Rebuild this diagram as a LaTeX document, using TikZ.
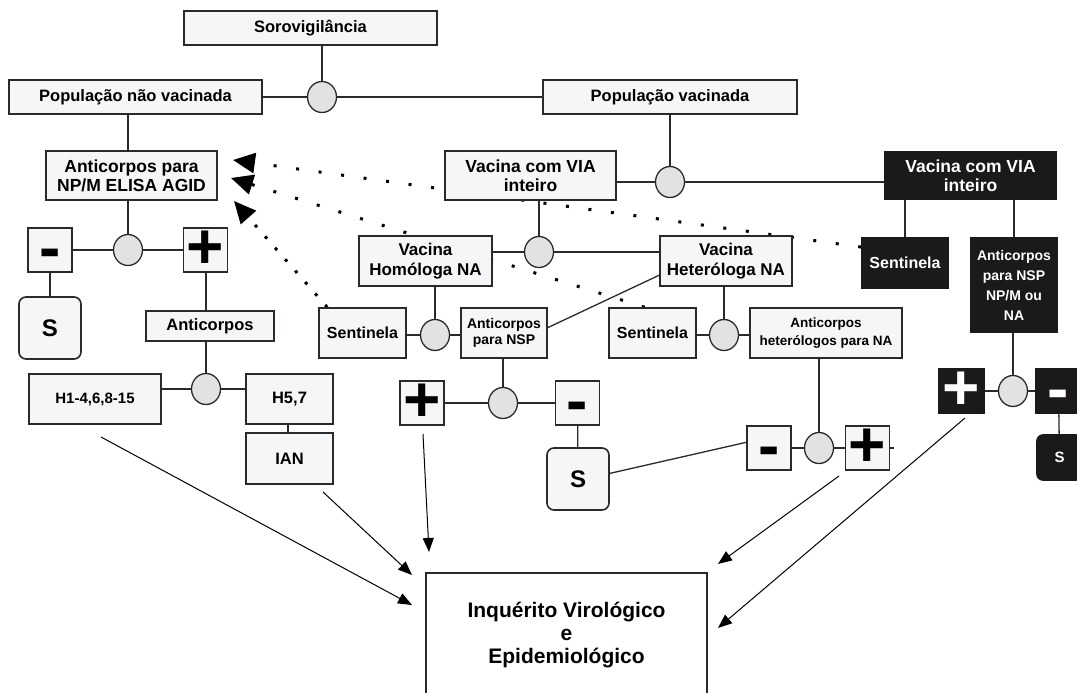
\documentclass[tikz,border=0pt]{standalone}
\usepackage{fontspec}
\setmainfont{Liberation Sans}
\usetikzlibrary{arrows.meta,shapes.geometric,calc}
\definecolor{ink}{HTML}{2A2A2A}
\definecolor{paper}{HTML}{F5F6F8}
\definecolor{discfill}{HTML}{E2E2E2}
\definecolor{blk}{HTML}{1B1919}
\newcommand\fs[2]{\fontsize{#1}{#2}\selectfont}
% hyphen used as a bold minus, set on the centre line of its box
\newcommand\negsign{\smash{\raisebox{-0.3em}{-}}}
\pgfdeclarelayer{back}
\pgfdeclarelayer{bg}
\pgfsetlayers{back,bg,main}

\begin{document}
\begin{tikzpicture}[x=1pt,y=-1pt,
  box/.style={draw=ink,fill=paper,line width=1.6pt,inner sep=0pt,align=center,
              font=\bfseries\fs{16.5}{19}},
  dark/.style={box,draw=blk,fill=blk,text=white},
  wh/.style 2 args={minimum width=#1pt,minimum height=#2pt},
  sq/.style={box,minimum width=44pt,minimum height=44pt,font=\bfseries\fs{64}{64}},
  sbox/.style={box,rounded corners=7pt,font=\bfseries\fs{24}{24}},
  disc/.style={ellipse,draw=ink,fill=discfill,line width=1.3pt,
               minimum width=29pt,minimum height=31pt,inner sep=0pt},
  link/.style={draw=ink,line width=1.3pt},
  arr/.style={draw=black,line width=1pt,-{Triangle[length=14pt,width=11pt]}},
  dotl/.style={draw=black,line width=3pt,dash pattern=on 3pt off 19.7pt,
               -{Triangle[length=22pt,width=20pt]}},
  dotlb/.style={dotl,dash pattern=on 3pt off 12.2pt},
]
\useasboundingbox (0,0) rectangle (1077,693);
\begin{pgfonlayer}{back}
  \fill[white] (0,0) rectangle (1077,693);
\end{pgfonlayer}

% ---- top level
\node[box,wh={253}{34}] (soro)  at (310.5,28) {Sorovigilância};
\node[box,wh={253}{34}] (popnv) at (135.5,97) {População não vacinada};
\node[box,wh={254}{34}] (popv)  at (670,97)   {População vacinada};
\node[disc] (circA) at (322,97) {};

% ---- non-vaccinated branch
\node[box,wh={171}{49},font=\bfseries\fs{17.5}{19}] (antinp) at (131.5,175.5)
  {Anticorpos para\\NP/M ELISA AGID};
\node[disc] (circB) at (128,250) {};
\node[sq] (minusL) at (50,250) {\negsign};
\node[sq] (plusL) at (205.5,250) {+};
\node[sbox,wh={62}{62}] (SL) at (50,328) {S};
\node[box,wh={128}{30}] (anti) at (210,326) {Anticorpos};
\node[disc] (circC) at (206,389) {};
\node[box,wh={132}{50},font=\bfseries\fs{15}{18}] (h1) at (95,399) {H1-4,6,8-15};
\node[box,wh={87}{50}] (h57) at (289.5,399) {H5,7};
\node[box,wh={87}{51}] (ian) at (289.5,458.5) {IAN};

% ---- vaccinated branch
\node[box,wh={171}{49},font=\bfseries\fs{17.5}{19}] (viaw) at (530.5,175.5)
  {Vacina com VIA\\inteiro};
\node[disc] (circF) at (670,182) {};
\node[dark,wh={171}{48},font=\bfseries\fs{17.5}{19}] (viab) at (970.5,175.5)
  {Vacina com VIA\\inteiro};
\node[disc] (circJ) at (539,252) {};
\node[box,wh={133}{50},font=\bfseries\fs{17}{20}] (homo) at (425.5,261)
  {Vacina\\Homóloga NA};
\node[box,wh={132}{50},font=\bfseries\fs{17}{20}] (hetero) at (726,261)
  {Vacina\\Heteróloga NA};

\node[box,wh={87}{50},font=\bfseries\fs{16}{19}] (sentL) at (362.5,333) {Sentinela};
\node[disc] (circD) at (435,335) {};
\node[box,wh={86}{50},font=\bfseries\fs{14}{16}] (antinsp) at (504,333)
  {Anticorpos\\para NSP};
\node[disc] (circE) at (503,403) {};
\node[sq] (plusM) at (422,403) {+};
\node[sq] (minusM) at (577.5,403) {\negsign};
\node[sbox,wh={62}{62}] (SM) at (578,479) {S};

\node[box,wh={87}{50},font=\bfseries\fs{16}{19}] (sentM) at (652.5,333) {Sentinela};
\node[disc] (circG) at (724,335) {};
\node[box,wh={152}{50},font=\bfseries\fs{13.5}{18}] (antihet) at (826,333)
  {Anticorpos\\heterólogos para NA};
\node[disc] (circH) at (819,448) {};
\node[sq] (minus2) at (769,448) {\negsign};
\node[sq] (plus2) at (867.5,448) {+};

% ---- whole-virus vaccine (dark) branch
\node[dark,wh={86}{50},font=\bfseries\fs{16}{19}] (bsent) at (905,263) {Sentinela};
\node[dark,wh={86}{94},font=\bfseries\fs{14}{20}] (banti) at (1014,285)
  {Anticorpos\\para NSP\\NP/M ou\\NA};
\node[disc] (circI) at (1013,391) {};
\node[sq,dark,wh={45}{45},font=\bfseries\fs{64}{64}] (bplus) at (961.5,391) {+};
\node[sq,dark,wh={45}{45},font=\bfseries\fs{64}{64}] (bminus) at (1058.5,391) {\negsign};
\node[dark,rounded corners=6pt,wh={45}{45},font=\bfseries\fs{15}{15}] (bS) at (1059.5,457.5) {S};

% ---- final destination
\node[box,fill=white,line width=1.3pt,wh={281}{124},font=\bfseries\fs{21}{23}] (inq)
  at (566.5,635) {Inquérito Virológico\\e\\Epidemiológico};

% ---- connectors (behind the nodes)
\begin{pgfonlayer}{bg}
  \draw[link] (circA) -- (circA |- soro.south);
  \draw[link] (popnv) -- (circA) -- (popv);
  \draw[link] (popnv.south -| circB) -- (antinp.north -| circB);
  \draw[link] (antinp.south -| circB) -- (circB);
  \draw[link] (minusL) -- (circB) -- (plusL);
  \draw[link] (minusL) -- (SL);
  \draw[link] (plusL.south -| circC) -- (anti.north -| circC);
  \draw[link] (anti.south -| circC) -- (circC);
  \draw[link] (h1.east |- circC) -- (circC) -- (h57.west |- circC);
  \draw[link] (h57.south -| 288,0) -- (ian.north -| 288,0);

  \draw[link] (popv) -- (circF);
  \draw[link] (viaw.east |- circF) -- (circF) -- (viab.west |- circF);
  \draw[link] (viaw.south -| circJ) -- (circJ);
  \draw[link] (homo.east |- circJ) -- (circJ) -- (hetero.west |- circJ);
  \draw[link] (homo.south -| circD) -- (circD);
  \draw[link] (sentL.east |- circD) -- (circD) -- (antinsp.west |- circD);
  \draw[link] (hetero.192) -- (antinsp.7);
  \draw[link] (antinsp.south -| circE) -- (circE);
  \draw[link] (plusM) -- (circE) -- (minusM);
  \draw[link] (minusM) -- (SM);
  \draw[link] (SM.10) -- (minus2.166);
  \draw[link] (hetero.south -| circG) -- (circG);
  \draw[link] (sentM.east |- circG) -- (circG) -- (antihet.west |- circG);
  \draw[link] (antihet.south -| circH) -- (circH);
  \draw[link] (minus2) -- (circH) -- (plus2);
  \draw[link] (plus2.east) -- ++(4,0);

  \draw[link] (viab.south -| bsent) -- (bsent.north);
  \draw[link] (viab.south -| banti) -- (banti.north);
  \draw[link] (banti.south -| circI) -- (circI);
  \draw[link] (bplus) -- (circI) -- (bminus);
  \draw[link] (bminus) -- (bS);

  % dotted cross-references back to the NP/M antibody test
  \coordinate (tip1) at (233,160);
  \coordinate (tip2) at (231,178);
  \coordinate (tip3) at (234,201);
  \draw[dotl] (bsent.160) -- (tip1);
  \draw[dotl] (sentM.107) -- (tip2);
  \draw[dotlb] ([xshift=9pt]sentL.north west) -- (tip3);
\end{pgfonlayer}

% ---- arrows into the survey box
\coordinate (a1s) at (101,437);  \coordinate (a1e) at (412,605);
\coordinate (a2s) at (323,492);  \coordinate (a2e) at (412,575);
\coordinate (a3s) at (423,434);  \coordinate (a3e) at (429,552);
\coordinate (a4s) at (839,476);  \coordinate (a4e) at (718,564);
\coordinate (a5s) at (965,418);  \coordinate (a5e) at (718,628);
\draw[arr] (a1s) -- (a1e);
\draw[arr] (a2s) -- (a2e);
\draw[arr] (a3s) -- (a3e);
\draw[arr] (a4s) -- (a4e);
\draw[arr] (a5s) -- (a5e);
\end{tikzpicture}
\end{document}
